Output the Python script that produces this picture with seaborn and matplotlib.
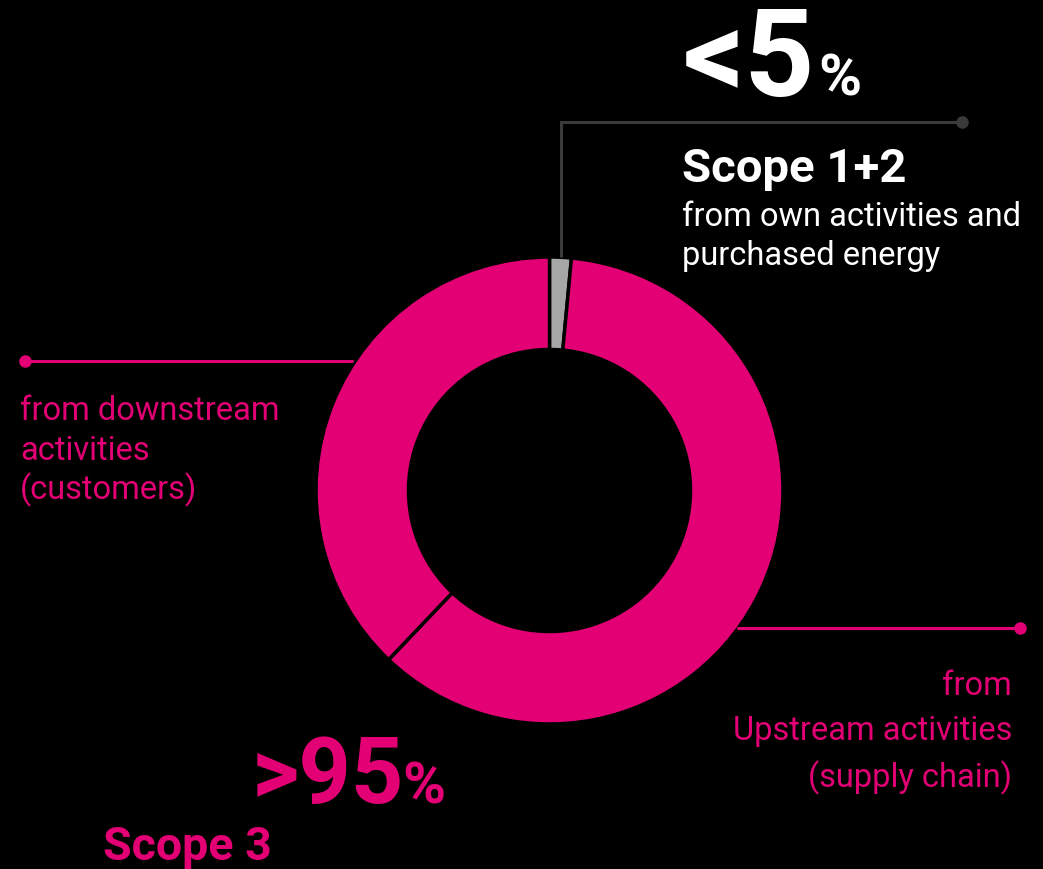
import matplotlib
matplotlib.use("Agg")
import matplotlib.pyplot as plt
import seaborn as sns

# ---- data ----
segments = ["Scope 1+2", "Upstream activities", "Downstream activities"]
shares = [1.5, 60.6, 37.9]
seg_colors = ["#A6A6A6", "#E20074", "#E20074"]

W, H = 1043, 869
MAGENTA = "#E20074"

sns.set_theme(style="white", rc={"figure.facecolor": "black",
                                 "axes.facecolor": "black",
                                 "savefig.facecolor": "black"})
plt.rcParams['font.family'] = ['Roboto', 'DejaVu Sans']

fig = plt.figure(figsize=(W / 100, H / 100), dpi=100)

cx, cy, R, r = 549.5, 490.5, 233.5, 141
ax = fig.add_axes([(cx - R) / W, (H - cy - R) / H, 2 * R / W, 2 * R / H])
ax.pie(shares, colors=seg_colors, startangle=90, counterclock=False, radius=1,
       wedgeprops=dict(width=1 - r / R, edgecolor="black", linewidth=2.5))
ax.set_xlim(-1, 1)
ax.set_ylim(-1, 1)
ax.set_aspect("equal")
ax.axis("off")

ov = fig.add_axes([0, 0, 1, 1])
ov.set_xlim(0, W)
ov.set_ylim(H, 0)
ov.axis("off")
ov.patch.set_alpha(0)

# leader lines
ov.plot([561, 561, 962], [256, 122, 122], color="#3a3a3a", lw=2.2, solid_joinstyle="miter")
ov.plot([962], [122], "o", color="#3a3a3a", ms=8)
ov.plot([25, 352], [361, 361], color=MAGENTA, lw=2.2)
ov.plot([25], [361], "o", color=MAGENTA, ms=8)
ov.plot([738, 1020], [628, 628], color=MAGENTA, lw=2.2)
ov.plot([1020], [628], "o", color=MAGENTA, ms=8)

def t(x, y, s, size, color="white", weight="normal", ha="left"):
    ov.text(x, y, s, fontsize=size, color=color, fontweight=weight, ha=ha, va="baseline")

BODY = 23.5

# Scope 1+2 block
t(683, 96, "<5", 88, weight="bold")
t(818, 96, "%", 42, weight="bold")
t(682, 182, "Scope 1+2", 34, weight="bold")
t(682, 226, "from own activities and", BODY)
t(682, 265, "purchased energy", BODY)

# Downstream
t(20, 420, "from downstream", BODY, color=MAGENTA)
t(20, 460, "activities", BODY, color=MAGENTA)
t(20, 499, "(customers)", BODY, color=MAGENTA)

# Upstream
t(1012, 695, "from", BODY, color=MAGENTA, ha="right")
t(1012, 740, "Upstream activities", BODY, color=MAGENTA, ha="right")
t(1012, 787, "(supply chain)", BODY, color=MAGENTA, ha="right")

# Scope 3 block
t(252, 803, ">95", 66, color=MAGENTA, weight="bold")
t(402, 803, "%", 42, color=MAGENTA, weight="bold")
t(103, 860, "Scope 3", 33.5, color=MAGENTA, weight="bold")

fig.savefig("out.png", dpi=100, facecolor="black")
